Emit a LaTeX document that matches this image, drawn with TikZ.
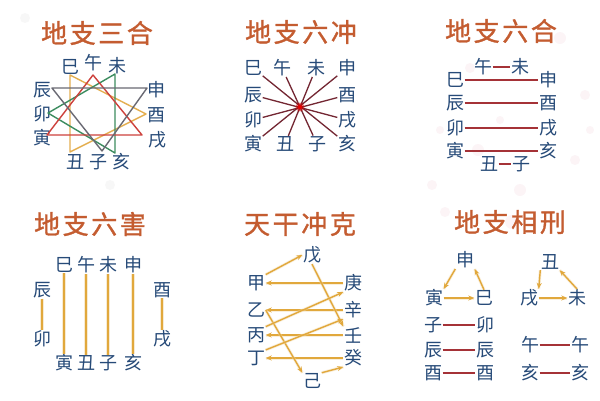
\documentclass[tikz,border=0pt]{standalone}
\usepackage{fontspec}
\newfontfamily\cjk{Noto Sans CJK SC}
\newfontfamily\cjktitle[FakeBold=1.2,LetterSpace=10]{Noto Sans CJK SC}
\usetikzlibrary{arrows.meta}
\definecolor{titlec}{RGB}{196,92,48}
\definecolor{labc}{RGB}{38,74,120}
\definecolor{grayl}{RGB}{105,105,115}
\definecolor{redl}{RGB}{205,65,60}
\definecolor{greenl}{RGB}{60,140,95}
\definecolor{yell}{RGB}{228,175,80}
\definecolor{maroonl}{RGB}{115,38,50}
\definecolor{linkred}{RGB}{165,50,55}
\definecolor{goldl}{RGB}{225,168,60}
\definecolor{pinkdot}{RGB}{225,140,165}
\tikzset{
  ttl/.style={font=\cjktitle\fontsize{26}{26}\selectfont, text=titlec, inner sep=0pt},
  lab/.style={font=\cjk\fontsize{18}{18}\selectfont, text=labc, inner sep=0.5pt},
  starline/.style={line width=1.4pt, line join=round},
  chongline/.style={draw=maroonl, line width=1.3pt},
  heline/.style={draw=linkred, line width=1.8pt},
  haiyline/.style={draw=goldl, line width=1.6pt, preaction={draw=goldl!45, line width=3.6pt, opacity=0.5}},
  kearrow/.style={draw=goldl, line width=1.4pt, -{Stealth[length=6pt,width=5pt]}, preaction={draw=goldl!40, line width=3pt, opacity=0.45, -}},
  bokeh/.style={fill=pinkdot, opacity=0.09}
}
\begin{document}
\begin{tikzpicture}[x=1pt,y=-1pt]
\useasboundingbox (0,0) rectangle (600,400);
\fill[white] (0,0) rectangle (600,400);
% faint background spots
\foreach \p/\r in {{(470,68)}/5, {(560,38)}/6, {(585,95)}/5, {(478,150)}/6, {(432,185)}/5, {(520,190)}/6, {(575,160)}/5, {(440,130)}/4, {(512,222)}/7, {(445,212)}/5, {(590,130)}/4, {(500,120)}/4}
  \fill[bokeh] \p circle (\r);
\fill[gray, opacity=0.06] (25,18) circle (5) (72,62) circle (4) (110,185) circle (5);

% ================= Panel 1: 地支三合
\node[ttl] (t1) at (97,33) {地支三合};
\node[lab] (s1) at (70,67) {巳};
\node[lab] (w1) at (93,63) {午};
\node[lab] (m1) at (117,66) {未};
\node[lab] (c1) at (42,90) {辰};
\node[lab] (k1) at (42,114) {卯};
\node[lab] (y1) at (42,138) {寅};
\node[lab] (sh1) at (156,90) {申};
\node[lab] (yo1) at (156,115) {酉};
\node[lab] (x1) at (157,140) {戌};
\node[lab] (ch1) at (75,162) {丑};
\node[lab] (z1) at (98,162) {子};
\node[lab] (h1) at (121,162) {亥};
% triangle vertices
\coordinate (ga) at (52,88);  \coordinate (gb) at (147,88);  \coordinate (gc) at (102,151);
\coordinate (ra) at (47,135); \coordinate (rb) at (142,135); \coordinate (rc) at (93,75);
\coordinate (na) at (115,74); \coordinate (nb) at (115,153); \coordinate (nc) at (48,113);
\coordinate (oa) at (70,75);  \coordinate (ob) at (70,152);  \coordinate (oc) at (146,114);
\draw[starline, draw=yell] (oa) -- (ob) -- (oc) -- cycle;
\draw[starline, draw=greenl] (na) -- (nb) -- (nc) -- cycle;
\draw[starline, draw=redl] (ra) -- (rb) -- (rc) -- cycle;
\draw[starline, draw=grayl] (ga) -- (gb) -- (gc) -- cycle;

% ================= Panel 2: 地支六冲
\node[ttl] (t2) at (301,32) {地支六冲};
\node[lab] (s2) at (253,68) {巳};
\node[lab] (w2) at (282,68) {午};
\node[lab] (m2) at (316,68) {未};
\node[lab] (sh2) at (347,68) {申};
\node[lab] (c2) at (253,95) {辰};
\node[lab] (k2) at (253,120) {卯};
\node[lab] (y2) at (253,144) {寅};
\node[lab] (yo2) at (347,95) {酉};
\node[lab] (x2) at (347,120) {戌};
\node[lab] (h2) at (347,144) {亥};
\node[lab] (ch2) at (285,144) {丑};
\node[lab] (z2) at (317,144) {子};
\draw[chongline] (s2) -- (h2);
\draw[chongline] (w2) -- (z2);
\draw[chongline] (m2) -- (ch2);
\draw[chongline] (sh2) -- (y2);
\draw[chongline] (c2) -- (x2);
\draw[chongline] (k2) -- (yo2);
\coordinate (ctr2) at (300,107);
\fill[red!85!black, opacity=0.5] (ctr2) circle (4.5);
\fill[red!90!black] (ctr2) circle (2.2);

% ================= Panel 3: 地支六合
\node[ttl] (t3) at (501,31) {地支六合};
\node[lab] (w3) at (483,67) {午};
\node[lab] (m3) at (520,67) {未};
\node[lab] (s3) at (455,80) {巳};
\node[lab] (sh3) at (548,80) {申};
\node[lab] (c3) at (455,103) {辰};
\node[lab] (yo3) at (548,103) {酉};
\node[lab] (k3) at (455,128) {卯};
\node[lab] (x3) at (548,128) {戌};
\node[lab] (y3) at (455,151) {寅};
\node[lab] (h3) at (548,151) {亥};
\node[lab] (ch3) at (489,164) {丑};
\node[lab] (z3) at (521,164) {子};
\draw[heline] (w3) -- (m3);
\draw[heline] (s3) -- (sh3);
\draw[heline] (c3) -- (yo3);
\draw[heline] (k3) -- (x3);
\draw[heline] (y3) -- (h3);
\draw[heline] (ch3) -- (z3);

% ================= Panel 4: 地支六害
\node[ttl] (t4) at (90,224) {地支六害};
\node[lab] (s4) at (64,265) {巳};
\node[lab] (w4) at (86,265) {午};
\node[lab] (m4) at (108,265) {未};
\node[lab] (sh4) at (133,265) {申};
\node[lab] (c4) at (42,290) {辰};
\node[lab] (yo4) at (162,290) {酉};
\node[lab] (k4) at (42,339) {卯};
\node[lab] (x4) at (162,339) {戌};
\node[lab] (y4) at (64,363) {寅};
\node[lab] (ch4) at (86,363) {丑};
\node[lab] (z4) at (108,363) {子};
\node[lab] (h4) at (133,363) {亥};
\draw[haiyline] (c4) -- (k4);
\draw[haiyline] (s4) -- (y4);
\draw[haiyline] (w4) -- (ch4);
\draw[haiyline] (m4) -- (z4);
\draw[haiyline] (sh4) -- (h4);
\draw[haiyline] (yo4) -- (x4);

% ================= Panel 5: 天干冲克
\node[ttl] (t5) at (300,224) {天干冲克};
\node[lab] (wu5) at (312,255) {戊};
\node[lab] (jia) at (256,283) {甲};
\node[lab] (yi) at (256,310) {乙};
\node[lab] (bing) at (256,335) {丙};
\node[lab] (ding) at (256,358) {丁};
\node[lab] (geng) at (353,283) {庚};
\node[lab] (xin) at (353,310) {辛};
\node[lab] (ren) at (353,335) {壬};
\node[lab] (gui) at (353,358) {癸};
\node[lab] (ji) at (312,381) {己};
\draw[kearrow] (geng) -- (jia);
\draw[kearrow] (xin) -- (yi);
\draw[kearrow] (ren) -- (bing);
\draw[kearrow] (gui) -- (ding);
\draw[kearrow] (jia.north east) -- (wu5.west);
\draw[kearrow] (wu5.south) -- (ren.north west);
\draw[kearrow] (yi.east) -- (ji.north west);
\draw[kearrow] (bing.north east) -- (geng.south west);
\draw[kearrow] (ding.north east) -- (xin.south west);
\draw[kearrow] (ji.north east) -- (gui.south west);

% ================= Panel 6: 地支相刑
\node[ttl] (t6) at (510,222) {地支相刑};
\node[lab] (sh6) at (465,260) {申};
\node[lab] (y6) at (434,298) {寅};
\node[lab] (s6) at (484,298) {巳};
\node[lab] (ch6) at (550,262) {丑};
\node[lab] (x6) at (529,298) {戌};
\node[lab] (m6) at (577,298) {未};
\draw[kearrow] (sh6.south west) -- (y6.north east);
\draw[kearrow] (s6.north) -- (sh6.south east);
\draw[kearrow] (y6) -- (s6);
\draw[kearrow] (ch6.south west) -- (x6.north east);
\draw[kearrow] (m6.north) -- (ch6.south east);
\draw[kearrow] (x6) -- (m6);
\node[lab] (z6) at (433,325) {子};
\node[lab] (k6) at (485,325) {卯};
\node[lab] (ca6) at (433,350) {辰};
\node[lab] (cb6) at (485,350) {辰};
\node[lab] (ya6) at (433,373) {酉};
\node[lab] (yb6) at (485,373) {酉};
\node[lab] (wa6) at (530,345) {午};
\node[lab] (wb6) at (580,345) {午};
\node[lab] (ha6) at (530,373) {亥};
\node[lab] (hb6) at (580,373) {亥};
\draw[heline] (z6) -- (k6);
\draw[heline] (ca6) -- (cb6);
\draw[heline] (ya6) -- (yb6);
\draw[heline] (wa6) -- (wb6);
\draw[heline] (ha6) -- (hb6);
\end{tikzpicture}
\end{document}
